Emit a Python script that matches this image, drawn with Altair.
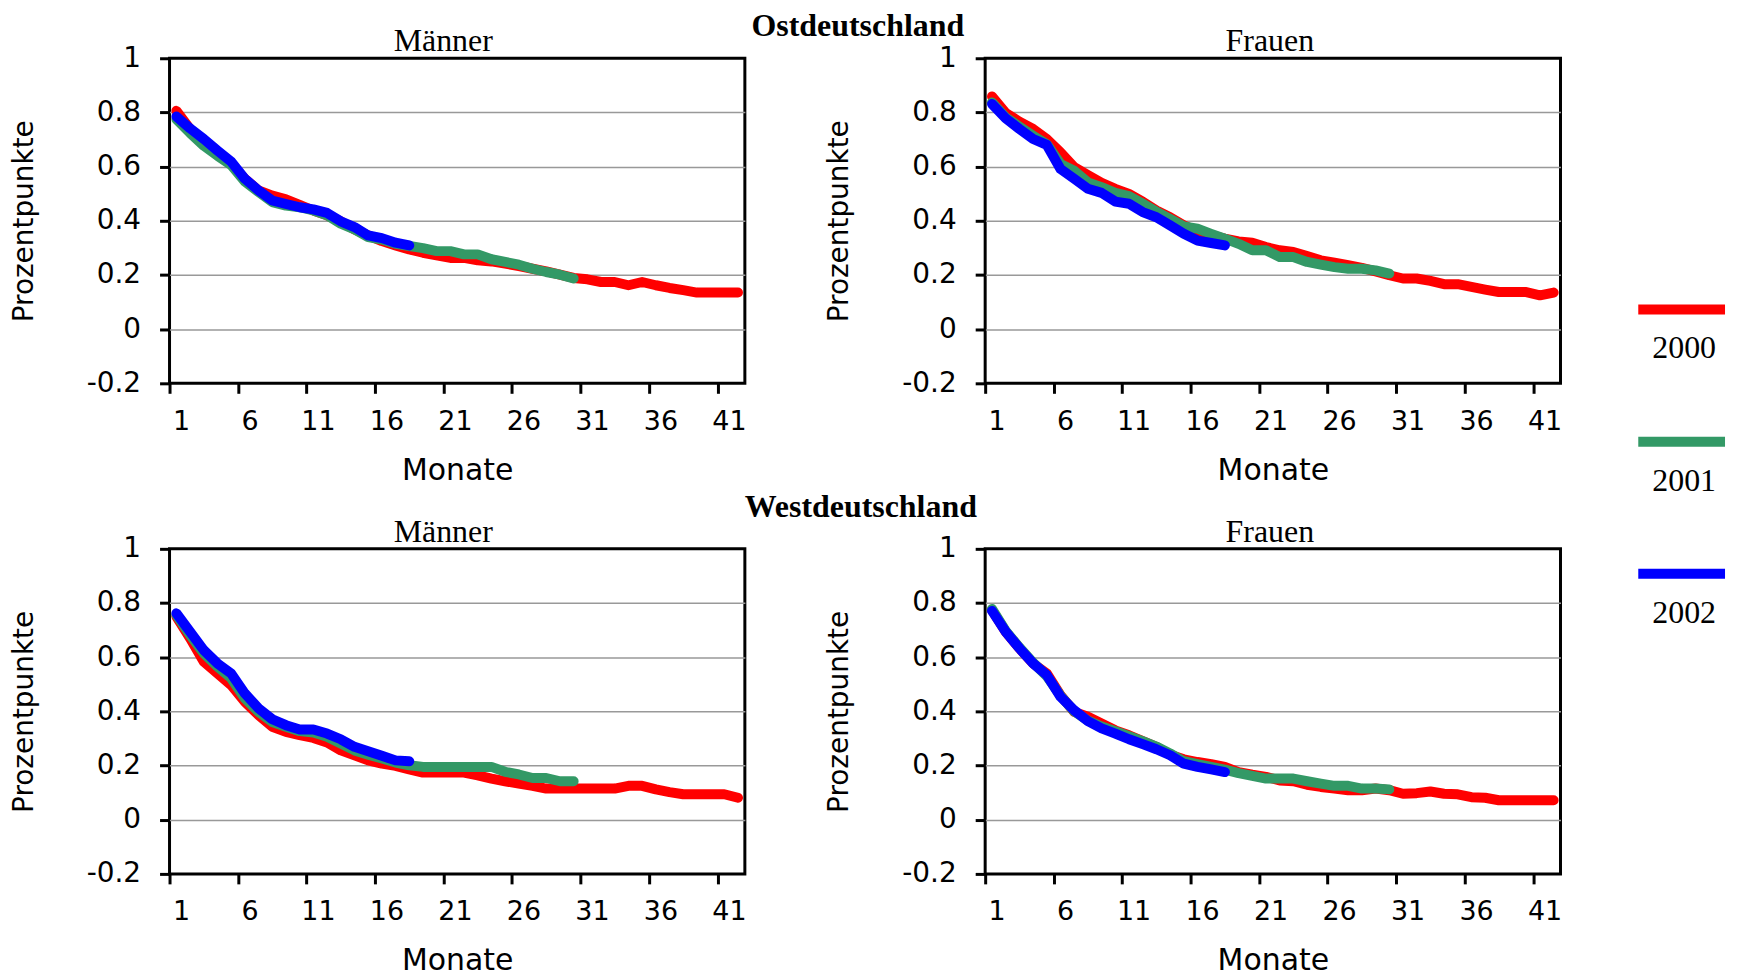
import altair as alt
import pandas as pd

years = ["2000", "2001", "2002"]
year_colors = ["#FF0000", "#339966", "#0000FF"]
x_tick_values = [0.5, 5.5, 10.5, 15.5, 20.5, 25.5, 30.5, 35.5, 40.5]
y_tick_values = [-0.2, 0, 0.2, 0.4, 0.6, 0.8, 1]

# Ostdeutschland, Männer
ost_m_2000 = [0.806, 0.739, 0.690, 0.647, 0.610, 0.555, 0.512, 0.493, 0.479, 0.459,
              0.438, 0.420, 0.398, 0.368, 0.346, 0.325, 0.309, 0.294, 0.282, 0.272,
              0.263, 0.263, 0.254, 0.250, 0.242, 0.233, 0.223, 0.213, 0.201, 0.189,
              0.184, 0.174, 0.174, 0.162, 0.174, 0.162, 0.152, 0.144, 0.135, 0.135,
              0.135, 0.135]
ost_m_2001 = [0.775, 0.724, 0.677, 0.640, 0.606, 0.545, 0.506, 0.469, 0.456, 0.450,
              0.438, 0.420, 0.389, 0.368, 0.340, 0.331, 0.315, 0.307, 0.299, 0.288,
              0.288, 0.276, 0.276, 0.258, 0.248, 0.238, 0.223, 0.211, 0.201, 0.187]
ost_m_2002 = [0.785, 0.741, 0.702, 0.659, 0.618, 0.555, 0.512, 0.475, 0.462, 0.450,
              0.442, 0.429, 0.398, 0.377, 0.346, 0.336, 0.319, 0.309]

# Ostdeutschland, Frauen
ost_f_2000 = [0.859, 0.798, 0.766, 0.739, 0.702, 0.653, 0.598, 0.569, 0.540, 0.518,
              0.499, 0.471, 0.438, 0.413, 0.383, 0.361, 0.346, 0.334, 0.324, 0.319,
              0.303, 0.291, 0.285, 0.270, 0.254, 0.245, 0.236, 0.226, 0.213, 0.199,
              0.187, 0.187, 0.178, 0.166, 0.166, 0.156, 0.146, 0.137, 0.137, 0.137,
              0.125, 0.135]
ost_f_2001 = [0.837, 0.782, 0.748, 0.714, 0.683, 0.610, 0.585, 0.542, 0.524, 0.503,
              0.491, 0.463, 0.434, 0.407, 0.379, 0.371, 0.352, 0.334, 0.315, 0.291,
              0.291, 0.266, 0.266, 0.248, 0.238, 0.229, 0.223, 0.223, 0.217, 0.205]
ost_f_2002 = [0.831, 0.778, 0.739, 0.702, 0.680, 0.591, 0.555, 0.518, 0.503, 0.471,
              0.463, 0.432, 0.413, 0.383, 0.352, 0.327, 0.318, 0.309]

# Westdeutschland, Männer
west_m_2000 = [0.750, 0.670, 0.583, 0.540, 0.497, 0.435, 0.386, 0.343, 0.324, 0.312,
               0.302, 0.285, 0.256, 0.238, 0.219, 0.207, 0.199, 0.186, 0.174, 0.174,
               0.174, 0.174, 0.164, 0.152, 0.142, 0.133, 0.125, 0.115, 0.115, 0.115,
               0.115, 0.115, 0.115, 0.125, 0.125, 0.112, 0.102, 0.094, 0.094, 0.094,
               0.094, 0.081]
west_m_2001 = [0.756, 0.682, 0.614, 0.565, 0.522, 0.448, 0.398, 0.361, 0.343, 0.327,
               0.322, 0.306, 0.281, 0.256, 0.240, 0.226, 0.211, 0.201, 0.195, 0.195,
               0.195, 0.195, 0.195, 0.195, 0.177, 0.167, 0.154, 0.154, 0.142, 0.142]
west_m_2002 = [0.762, 0.694, 0.626, 0.577, 0.540, 0.466, 0.411, 0.371, 0.349, 0.333,
               0.333, 0.318, 0.297, 0.269, 0.253, 0.236, 0.219, 0.216]

# Westdeutschland, Frauen
west_f_2000 = [0.774, 0.694, 0.633, 0.577, 0.540, 0.460, 0.398, 0.380, 0.355, 0.330,
               0.312, 0.290, 0.269, 0.240, 0.223, 0.213, 0.205, 0.195, 0.176, 0.166,
               0.158, 0.145, 0.142, 0.129, 0.121, 0.115, 0.109, 0.109, 0.115, 0.109,
               0.096, 0.098, 0.104, 0.096, 0.094, 0.083, 0.081, 0.072, 0.072, 0.072,
               0.072, 0.072]
west_f_2001 = [0.778, 0.697, 0.636, 0.580, 0.530, 0.458, 0.400, 0.366, 0.344, 0.327,
               0.308, 0.290, 0.270, 0.245, 0.216, 0.205, 0.195, 0.185, 0.172, 0.162,
               0.152, 0.152, 0.152, 0.142, 0.133, 0.125, 0.125, 0.115, 0.115, 0.112]
west_f_2002 = [0.771, 0.694, 0.633, 0.577, 0.534, 0.454, 0.404, 0.364, 0.337, 0.318,
               0.297, 0.279, 0.260, 0.238, 0.207, 0.195, 0.186, 0.176]

SANS = "DejaVu Sans"
SERIF = "Liberation Serif"


def frame(series_list):
    rows = []
    for year, vals in zip(years, series_list):
        for i, v in enumerate(vals):
            rows.append({"year": year, "month": i + 1, "value": v})
    return pd.DataFrame(rows)


color_scale = alt.Scale(domain=years, range=year_colors)


def panel(df, title, title_dx):
    return alt.Chart(df).mark_line(
        strokeWidth=10, strokeCap="round", strokeJoin="round"
    ).encode(
        x=alt.X(
            "month:Q",
            scale=alt.Scale(domain=[0.5, 42.5], nice=False, zero=False),
            axis=alt.Axis(
                values=x_tick_values,
                labelExpr="'' + (datum.value + 0.5)",
                labelOffset=11.5,
                title="Monate",
                grid=False,
                domain=False,
                tickColor="black",
                tickWidth=3,
                tickSize=10,
                labelFont=SANS,
                labelFontSize=27,
                labelColor="black",
                labelPadding=15,
                labelFlush=False,
                labelOverlap=False,
                titleFont=SANS,
                titleFontSize=30,
                titleFontWeight="normal",
                titleColor="black",
                titlePadding=21,
            ),
        ),
        y=alt.Y(
            "value:Q",
            scale=alt.Scale(domain=[-0.2, 1], nice=False, zero=False),
            axis=alt.Axis(
                values=y_tick_values,
                labelExpr="'' + datum.value",
                title="Prozentpunkte",
                grid=True,
                gridColor="#999999",
                gridWidth=1.5,
                gridOpacity={
                    "condition": {
                        "test": "datum.value >= 1 || datum.value <= -0.2",
                        "value": 0,
                    },
                    "value": 1,
                },
                domain=False,
                tickColor="black",
                tickWidth=3,
                tickSize=10,
                labelFont=SANS,
                labelFontSize=28,
                labelColor="black",
                labelPadding=19,
                labelFlush=False,
                labelOverlap=False,
                titleFont=SANS,
                titleFontSize=28,
                titleFontWeight="normal",
                titleColor="black",
                titlePadding=48,
            ),
        ),
        color=alt.Color("year:N", scale=color_scale, legend=None),
    ).properties(
        width=577,
        height=326,
        title=alt.TitleParams(
            title,
            font=SERIF,
            fontSize=32,
            fontWeight="normal",
            color="black",
            anchor="middle",
            frame="group",
            dx=title_dx,
            offset=-14,
        ),
    )


tl = panel(frame([ost_m_2000, ost_m_2001, ost_m_2002]), "Männer", -14)
tr = panel(frame([ost_f_2000, ost_f_2001, ost_f_2002]), "Frauen", -3)
bl = panel(frame([west_m_2000, west_m_2001, west_m_2002]), "Männer", -14)
br = panel(frame([west_f_2000, west_f_2001, west_f_2002]), "Frauen", -3)


def row_title(text, dx, offset):
    return alt.TitleParams(
        text,
        font=SERIF,
        fontSize=32,
        fontWeight="bold",
        color="black",
        anchor="middle",
        dx=dx,
        offset=offset,
    )


row1 = alt.hconcat(tl, tr, spacing=76, title=row_title("Ostdeutschland", 72, -19))
row2 = alt.hconcat(bl, br, spacing=76, title=row_title("Westdeutschland", 75, -10))
grid_part = alt.vconcat(row1, row2, spacing=4)

legend_df = pd.DataFrame({"year": years})
legend_y = alt.Y(
    "year:N", scale=alt.Scale(type="point", padding=0, range=[252, 517]), axis=None
)
legend_rules = alt.Chart(legend_df).mark_rule(strokeWidth=10).encode(
    y=legend_y,
    x=alt.value(0),
    x2=alt.value(87),
    color=alt.Color("year:N", scale=color_scale, legend=None),
)
legend_text = alt.Chart(legend_df).mark_text(
    font=SERIF, fontSize=32, color="black", dy=39, baseline="middle", align="center"
).encode(
    y=legend_y,
    x=alt.value(46),
    text="year:N",
)
legend_chart = alt.layer(legend_rules, legend_text).properties(
    width=87, height=575, view=alt.ViewBackground(stroke="transparent")
)

chart = alt.hconcat(grid_part, legend_chart, spacing=68).properties(
    padding={"left": 0, "top": 0, "right": 0, "bottom": 0}
).configure_view(stroke="black", strokeWidth=3)

chart.save("out.html", embed_options={"renderer": "svg", "actions": False})
